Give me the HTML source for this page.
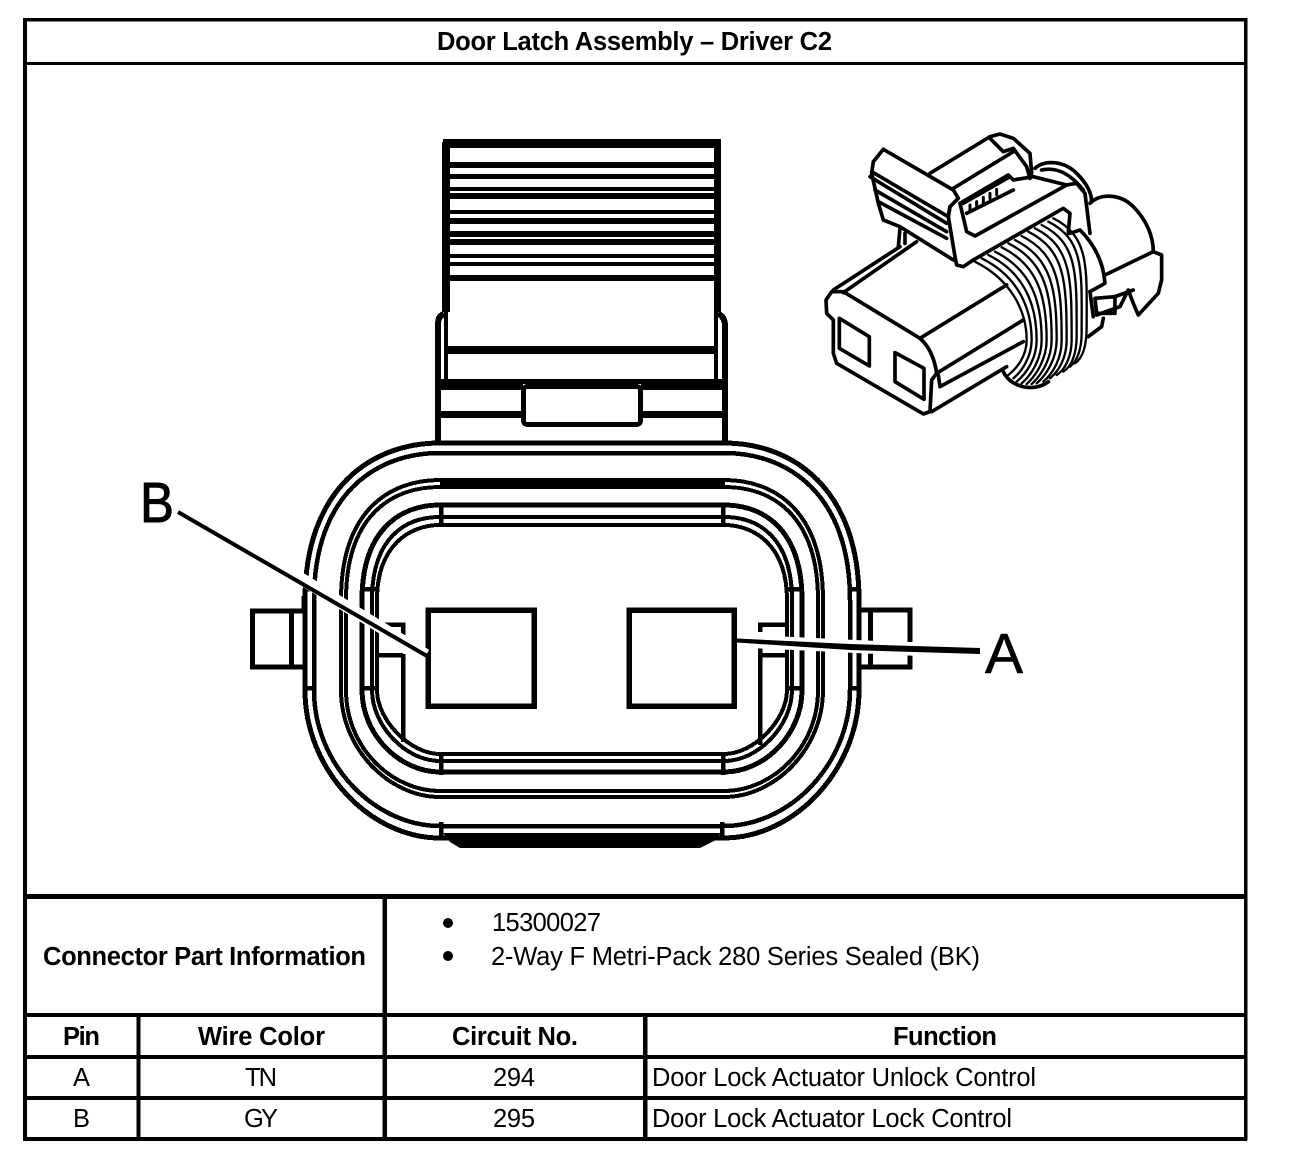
<!DOCTYPE html>
<html><head><meta charset="utf-8"><style>
html,body{margin:0;padding:0;background:#fff;width:1312px;height:1164px;overflow:hidden}
svg{display:block}
text{font-family:"Liberation Sans",Arial,sans-serif;fill:#000}
.b{font-weight:bold;font-size:25.5px}
.r{font-size:25.5px}
</style></head><body>
<svg width="1312" height="1164" viewBox="0 0 1312 1164" xmlns="http://www.w3.org/2000/svg">
<rect width="1312" height="1164" fill="#fff"/>

<!-- main connector -->
<g fill="none" stroke="#000" stroke-width="4.5" shape-rendering="crispEdges">
  <!-- rings -->
  <path d="M440,443C370,443 305,490 305,600L305,690C305,770 370,838 440,838L724,838C794,838 859,770 859,690L859,600C859,490 794,443 724,443Z" stroke-width="5"/>
  <path d="M440,453C375,453 314,495 314,600L314,690C314,765 375,826 440,826L724,826C789,826 850,765 850,690L850,600C850,495 789,453 724,453Z"/>
  <path d="M440,480C390,480 341,510 341,600L341,690C341,750 390,797 440,797L724,797C774,797 823,750 823,690L823,600C823,510 774,480 724,480Z" stroke-width="4"/>
  <path d="M440,487C392,487 346,515 346,600L346,690C346,748 392,791 440,791L724,791C772,791 818,748 818,690L818,600C818,515 772,487 724,487Z" stroke-width="4"/>
  <path d="M440,505C400,505 362,530 362,600L362,690C362,735 400,772 440,772L724,772C764,772 802,735 802,690L802,600C802,530 764,505 724,505Z" stroke-width="5"/>
  <path d="M440,517C405,517 372,538 372,600L372,690C372,725 405,761 440,761L724,761C759,761 792,725 792,690L792,600C792,538 759,517 724,517Z" stroke-width="4"/>
  <path d="M440,525C410,525 377,545 377,600L377,690C377,720 410,754 440,754L724,754C754,754 787,720 787,690L787,600C787,545 754,525 724,525Z" stroke-width="4"/>
  <!-- ticks / rungs -->
  <path d="M441,503V527M723,503V527M441,752V775M723,752V775M441,822V838M722,822V838M362,589H377M787,589H802M362,688H377M787,688H802M305,589H314M850,589H859M305,688H314M850,688H859"/>
  <!-- pockets -->
  <path d="M377,624.5H403V635M403,654V742M375,655H403"/>
  <path d="M787,624.5H760V632M760,647V745M787,655H760"/>
  <!-- side tabs -->
  <path d="M304,611H252.500V667H304M291.500,611V667M304,596V611" stroke-width="5"/>
  <path d="M860,610H910V642M910,655V667H860M870.500,610V667" stroke-width="5"/>
</g>
<rect x="440" y="478" width="285" height="11" fill="#000" shape-rendering="crispEdges"/>
<polygon points="443,833 721,833 716,840 700,848 460,848 450,842" fill="#000"/>

<!-- top tab -->
<g fill="#000" shape-rendering="crispEdges">
  <rect x="443" y="139" width="278" height="9"/>
  <rect x="442" y="142" width="8" height="170"/>
  <rect x="714" y="142" width="7" height="170"/>
  <rect x="445" y="162" width="272" height="6"/><rect x="445" y="174" width="272" height="5"/>
  <rect x="445" y="187" width="272" height="4"/><rect x="445" y="193" width="272" height="6"/>
  <rect x="445" y="210" width="272" height="4"/><rect x="445" y="218" width="272" height="6"/>
  <rect x="445" y="231" width="272" height="6"/><rect x="445" y="239" width="272" height="6"/>
  <rect x="445" y="254" width="272" height="4"/><rect x="445" y="262" width="272" height="4"/>
  <rect x="445" y="275" width="272" height="6"/>
  <rect x="444" y="281" width="4" height="100"/><rect x="714" y="281" width="4" height="100"/>
  <rect x="446" y="346" width="270" height="8"/>
  <rect x="441" y="379" width="281" height="5"/>
  <rect x="441" y="384" width="82" height="6"/><rect x="641" y="384" width="81" height="6"/>
  <rect x="441" y="411" width="82" height="7"/><rect x="641" y="411" width="81" height="7"/>
</g>
<g fill="none" stroke="#000" shape-rendering="crispEdges">
  <path d="M444,314Q438,316 438,324V442M718,314Q724,316 725,324V442" stroke-width="6"/>
  <rect x="523.500" y="386.500" width="117" height="38" rx="4" stroke-width="5" fill="#fff"/>
</g>

<!-- pins -->
<rect x="428" y="610" width="106" height="96" fill="#fff" stroke="#000" stroke-width="5.500" shape-rendering="crispEdges"/>
<rect x="629" y="610" width="105" height="96" fill="#fff" stroke="#000" stroke-width="5.500" shape-rendering="crispEdges"/>

<!-- leaders -->
<line x1="300" y1="578" x2="426" y2="655" stroke="#fff" stroke-width="12"/>
<line x1="178" y1="512" x2="427" y2="656" stroke="#000" stroke-width="4"/>
<line x1="740" y1="641" x2="930" y2="650" stroke="#fff" stroke-width="13"/>
<polygon points="737,638.500 850,644 980,648 980,654 850,650 737,642.500" fill="#000"/>
<text x="140" y="522" font-size="57" textLength="34" lengthAdjust="spacingAndGlyphs" stroke="#000" stroke-width="1">B</text>
<text x="985" y="673" font-size="57" textLength="38" stroke="#000" stroke-width=".6">A</text>

<!-- iso connector -->
<g transform="translate(800 110) scale(.3333)" fill="none" stroke="#000" stroke-width="11" stroke-linejoin="round" stroke-linecap="round">
  <path d="M705,175C730,150 790,150 830,190C860,220 875,250 875,275M725,180C770,170 810,190 850,240"/>
  <path d="M870,280C900,250 960,250 1000,290C1040,330 1060,380 1060,425"/>
  <!-- boot ribs -->
  <g stroke-width="7">
  <path d="M525,455C635,510 680,605 680,690C680,740 650,775 625,795"/>
  <path d="M545,445C655,500 695,595 695,690C695,740 665,785 640,805"/>
  <path d="M565,435C675,490 710,585 710,690C710,745 680,790 650,815"/>
  <path d="M585,425C695,480 725,575 725,690C725,745 695,795 665,820"/>
  <path d="M605,412C715,467 740,562 740,690C740,745 710,795 680,822"/>
  <path d="M625,400C735,455 755,550 755,690C755,745 725,795 695,822"/>
  <path d="M645,390C755,445 770,540 770,690C770,745 740,795 710,820"/>
  <path d="M665,378C775,433 785,528 785,690C785,745 760,790 730,815"/>
  <path d="M685,365C795,420 800,515 800,690C800,745 775,785 750,805"/>
  <path d="M705,355C815,410 815,505 815,690C815,740 795,780 770,795"/>
  <path d="M725,345C835,400 830,495 830,680C830,730 815,770 790,785"/>
  <path d="M745,335C855,390 845,485 845,670C845,720 830,755 810,770"/>
  <path d="M760,325C870,380 860,475 860,650C860,710 848,745 825,760"/>
  </g>
  <path d="M610,785C630,830 700,850 745,815"/>
  <path d="M810,370L840,360C880,400 910,450 915,520L870,545"/>
  <path d="M915,495L1060,425L1085,435L1085,510L1075,550L1015,615L1000,580L985,540L960,590L890,615"/>
  <path d="M885,565L945,560L945,610L890,610ZM945,560L1000,540M870,545L880,620M865,680L905,650L910,625"/>
  <!-- body -->
  <path d="M100,630L80,610L78,570L95,545L130,545L360,685Q400,720 410,790L395,810L390,905L370,912L110,760L100,730Z" fill="#fff"/>
  <path d="M118,625L208,680V768L118,715ZM285,728L372,775V868L285,815Z"/>
  <path d="M100,540L300,410M130,548L350,395M360,685L620,525M410,790L670,630M415,795L420,830L670,695M395,905L620,770"/>
  <!-- arch backing -->
  <path d="M450,290L465,440L470,465L490,470L520,450L790,295L810,310L805,225L625,195Z" fill="#fff" stroke="none"/>
  <!-- latch tail -->
  <path d="M390,190L570,80L600,72L640,85L690,130L695,190M570,85L610,125L640,115M460,235L640,125M640,115L680,170L690,205"/>
  <!-- latch ribbed -->
  <path d="M220,155L250,118L460,240L475,265L450,290L445,320M215,185L445,320M210,200L440,340M225,240L440,365M235,275L440,385M220,155L215,190L235,280L250,330L300,350L460,450"/>
  <path d="M300,355L295,410M315,370V400"/>
  <!-- arch -->
  <path d="M450,290L445,320L465,440L470,465L490,470L520,450L790,295L810,310L805,370"/>
  <path d="M480,280L500,365L525,378L800,225L830,220L855,250L870,370"/>
  <path d="M480,280L625,195L640,210L700,200L800,225M490,280L630,200M500,310L640,240"/>
  <path d="M510,285V300M530,275V290M550,262V278M570,250V266M590,238V254" stroke-width="9"/>
</g>

<!-- table -->
<g fill="#000" shape-rendering="crispEdges">
  <rect x="23" y="18" width="1224" height="3.500"/>
  <rect x="23" y="18" width="4" height="1122"/>
  <rect x="1244" y="18" width="3.500" height="1122"/>
  <rect x="23" y="62" width="1224" height="3"/>
  <rect x="23" y="894" width="1224" height="5"/>
  <rect x="23" y="1013" width="1224" height="4"/>
  <rect x="23" y="1055" width="1224" height="4"/>
  <rect x="23" y="1096" width="1224" height="4"/>
  <rect x="23" y="1137" width="1224" height="4"/>
  <rect x="136.500" y="1014" width="4" height="125"/>
  <rect x="382.500" y="896" width="4.500" height="243"/>
  <rect x="643" y="1014" width="4.500" height="125"/>
</g>
<circle cx="448" cy="923" r="5"/><circle cx="448" cy="956" r="5"/>

<text class="b" x="437" y="50" textLength="395">Door Latch Assembly – Driver C2</text>
<text class="b" x="43" y="965" textLength="323">Connector Part Information</text>
<text class="r" x="492" y="931" textLength="109">15300027</text>
<text class="r" x="491" y="965" textLength="489">2-Way F Metri-Pack 280 Series Sealed (BK)</text>
<text class="b" x="63" y="1045" textLength="37">Pin</text>
<text class="b" x="198" y="1045" textLength="127">Wire Color</text>
<text class="b" x="452" y="1045" textLength="126">Circuit No.</text>
<text class="b" x="893" y="1045" textLength="104">Function</text>
<text class="r" x="73" y="1086" textLength="17">A</text>
<text class="r" x="245" y="1086" textLength="32">TN</text>
<text class="r" x="493" y="1086" textLength="42">294</text>
<text class="r" x="652" y="1086" textLength="384">Door Lock Actuator Unlock Control</text>
<text class="r" x="73" y="1127" textLength="17">B</text>
<text class="r" x="244" y="1127" textLength="34">GY</text>
<text class="r" x="493" y="1127" textLength="42">295</text>
<text class="r" x="652" y="1127" textLength="360">Door Lock Actuator Lock Control</text>
</svg>
</body></html>
